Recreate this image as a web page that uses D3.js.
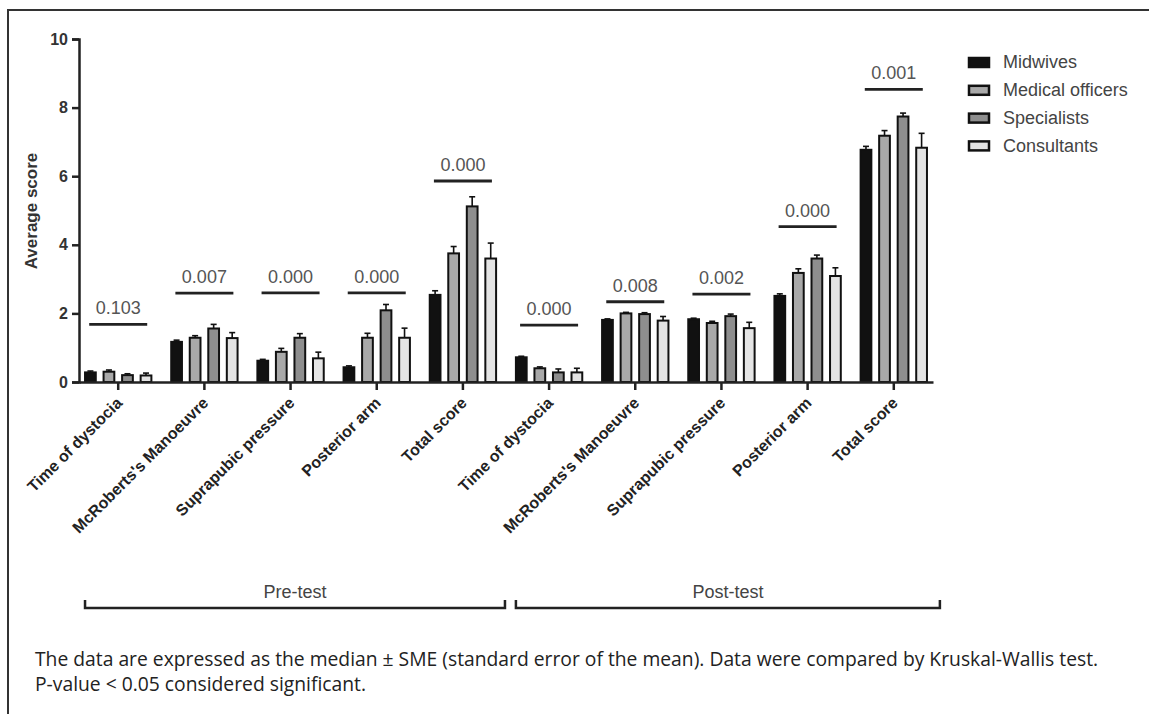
<!DOCTYPE html>
<html>
<head>
<meta charset="utf-8">
<script src="https://cdn.jsdelivr.net/npm/d3@7"></script>
<style>
  html, body { margin: 0; padding: 0; background: #fff; }
  svg { display: block; }
</style>
</head>
<body>
<svg id="chart" width="1149" height="714"></svg>
<script>
// ---------------- DATA ----------------
const series = ["Midwives", "Medical officers", "Specialists", "Consultants"];
const categories = ["Time of dystocia", "McRoberts's Manoeuvre", "Suprapubic pressure", "Posterior arm", "Total score",
                    "Time of dystocia", "McRoberts's Manoeuvre", "Suprapubic pressure", "Posterior arm", "Total score"];
const phases = ["Pre-test", "Post-test"];
const phaseOf = [0, 0, 0, 0, 0, 1, 1, 1, 1, 1];

const midwives        = [0.28, 1.17, 0.62, 0.43, 2.54, 0.72, 1.81, 1.83, 2.51, 6.77];
const medicalOfficers = [0.30, 1.29, 0.88, 1.29, 3.75, 0.40, 2.00, 1.72, 3.18, 7.18];
const specialists     = [0.20, 1.56, 1.29, 2.09, 5.12, 0.28, 1.98, 1.92, 3.60, 7.74];
const consultants     = [0.19, 1.28, 0.69, 1.29, 3.60, 0.28, 1.79, 1.57, 3.09, 6.83];

const errMidwives        = [0.04, 0.05, 0.04, 0.04, 0.12, 0.03, 0.03, 0.03, 0.06, 0.10];
const errMedicalOfficers = [0.05, 0.06, 0.10, 0.13, 0.20, 0.04, 0.03, 0.05, 0.12, 0.15];
const errSpecialists     = [0.04, 0.12, 0.12, 0.17, 0.28, 0.10, 0.04, 0.06, 0.10, 0.10];
const errConsultants     = [0.07, 0.16, 0.18, 0.28, 0.45, 0.12, 0.12, 0.17, 0.24, 0.42];

const pValues   = ["0.103", "0.007", "0.000", "0.000", "0.000", "0.000", "0.008", "0.002", "0.000", "0.001"];
const sigLevels = [1.68, 2.59, 2.60, 2.60, 5.86, 1.66, 2.34, 2.56, 4.53, 8.53];

const yTicks = [0, 2, 4, 6, 8, 10];
const yTitle = "Average score";
const caption1 = "The data are expressed as the median \u00B1 SME (standard error of the mean). Data were compared by Kruskal-Wallis test.";
const caption2 = "P-value < 0.05 considered significant.";

// ---------------- BUILD ----------------
const values = [midwives, medicalOfficers, specialists, consultants];
const errors = [errMidwives, errMedicalOfficers, errSpecialists, errConsultants];
const keys = categories.map((c, i) => "g" + i);
const fills = ["#111111", "#a9a9a9", "#8e8e8e", "#e4e4e4"];

const svg = d3.select("#chart");
const sansB = "'Liberation Sans', Arial, sans-serif";

// frame
svg.append("line").attr("x1", 7).attr("x2", 1149).attr("y1", 10).attr("y2", 10)
  .attr("stroke", "#333").attr("stroke-width", 2);
svg.append("line").attr("x1", 8).attr("x2", 8).attr("y1", 10).attr("y2", 714)
  .attr("stroke", "#333").attr("stroke-width", 2);

const y = d3.scaleLinear().domain([0, 10]).range([382, 39]);
const x0 = d3.scaleBand().domain(keys).range([79, 933]).paddingInner(0.23).paddingOuter(0.07);
const x1 = d3.scaleBand().domain(series).range([0, x0.bandwidth()]).paddingInner(0.42).paddingOuter(0);

// y axis
const yAxis = svg.append("g").attr("transform", "translate(79,0)")
  .call(d3.axisLeft(y).tickValues(yTicks).tickSize(7).tickPadding(4).tickFormat(d3.format("d")));
yAxis.select(".domain").attr("stroke", "#222").attr("stroke-width", 2.5);
yAxis.selectAll(".tick line").attr("stroke", "#222").attr("stroke-width", 2.5);
yAxis.selectAll(".tick text").attr("font-family", sansB).attr("font-weight", "bold")
  .attr("font-size", 16).attr("fill", "#333");

svg.append("text").attr("transform", "translate(37,211) rotate(-90)")
  .attr("text-anchor", "middle").attr("font-family", sansB).attr("font-weight", "bold")
  .attr("font-size", 17).attr("fill", "#333").text(yTitle);

// bars
const groups = svg.append("g").selectAll("g").data(keys).join("g")
  .attr("transform", k => `translate(${x0(k)},0)`);

groups.each(function(k, gi) {
  const g = d3.select(this);
  series.forEach((s, si) => {
    const v = values[si][gi], e = errors[si][gi];
    const bx = x1(s), bw = x1.bandwidth(), cx = bx + bw / 2;
    g.append("line").attr("x1", cx).attr("x2", cx).attr("y1", y(v)).attr("y2", y(v + e))
      .attr("stroke", "#111").attr("stroke-width", 1.6);
    g.append("line").attr("x1", cx - 3).attr("x2", cx + 3).attr("y1", y(v + e)).attr("y2", y(v + e))
      .attr("stroke", "#111").attr("stroke-width", 1.6);
    g.append("rect").attr("x", bx).attr("width", bw)
      .attr("y", y(v)).attr("height", y(0) - y(v))
      .attr("fill", fills[si]).attr("stroke", "#111").attr("stroke-width", 2);
  });
});

// x axis
const xAxis = svg.append("g").attr("transform", "translate(0,382)")
  .call(d3.axisBottom(x0).tickSize(8).tickSizeOuter(0).tickFormat((k, i) => categories[i]));
xAxis.select(".domain").attr("stroke", "#222").attr("stroke-width", 2.5);
xAxis.selectAll(".tick line").attr("stroke", "#222").attr("stroke-width", 2.5);
xAxis.selectAll(".tick text")
  .attr("font-family", sansB).attr("font-weight", "bold").attr("font-size", 16).attr("fill", "#222")
  .attr("text-anchor", "end").attr("dy", "0.35em")
  .attr("transform", "translate(1,18) rotate(-45)").attr("x", 0).attr("y", 0);

// significance lines
keys.forEach((k, i) => {
  const cx = x0(k) + x0.bandwidth() / 2;
  const yy = y(sigLevels[i]);
  svg.append("line").attr("x1", cx - 29).attr("x2", cx + 29).attr("y1", yy).attr("y2", yy)
    .attr("stroke", "#222").attr("stroke-width", 2.8);
  svg.append("text").attr("x", cx).attr("y", yy - 10).attr("text-anchor", "middle")
    .attr("font-family", sansB).attr("font-size", 18).attr("fill", "#555").text(pValues[i]);
});

// phase brackets
phases.forEach((p, pi) => {
  const idx = phaseOf.map((v, i) => v === pi ? i : -1).filter(i => i >= 0);
  const first = keys[idx[0]], last = keys[idx[idx.length - 1]];
  const xa = x0(first);
  const xb = x0(last) + x0.bandwidth() + x0.step() * (pi === 0 ? 0.103 : 0.15);
  svg.append("path").attr("d", `M${xa},600V608H${xb}V600`)
    .attr("fill", "none").attr("stroke", "#222").attr("stroke-width", 2.5);
  svg.append("text").attr("x", (xa + xb) / 2).attr("y", 598).attr("text-anchor", "middle")
    .attr("font-family", sansB).attr("font-size", 18).attr("fill", "#444").text(p);
});

// legend
const legend = svg.append("g").attr("transform", "translate(968,62)");
series.forEach((s, si) => {
  const gy = si * 27.8;
  legend.append("rect").attr("x", 1).attr("y", gy - 4).attr("width", 20).attr("height", 9)
    .attr("fill", fills[si]).attr("stroke", "#111").attr("stroke-width", 2.5);
  legend.append("text").attr("x", 35).attr("y", gy).attr("dy", "0.35em")
    .attr("font-family", sansB).attr("font-size", 18).attr("fill", "#444").text(s);
});

// caption
svg.append("text").attr("x", 35).attr("y", 666)
  .attr("font-family", "'Open Sans', sans-serif").attr("font-size", 19.3).attr("fill", "#222").text(caption1);
svg.append("text").attr("x", 35).attr("y", 691)
  .attr("font-family", "'Open Sans', sans-serif").attr("font-size", 19.3).attr("fill", "#222").text(caption2);
</script>
</body>
</html>
